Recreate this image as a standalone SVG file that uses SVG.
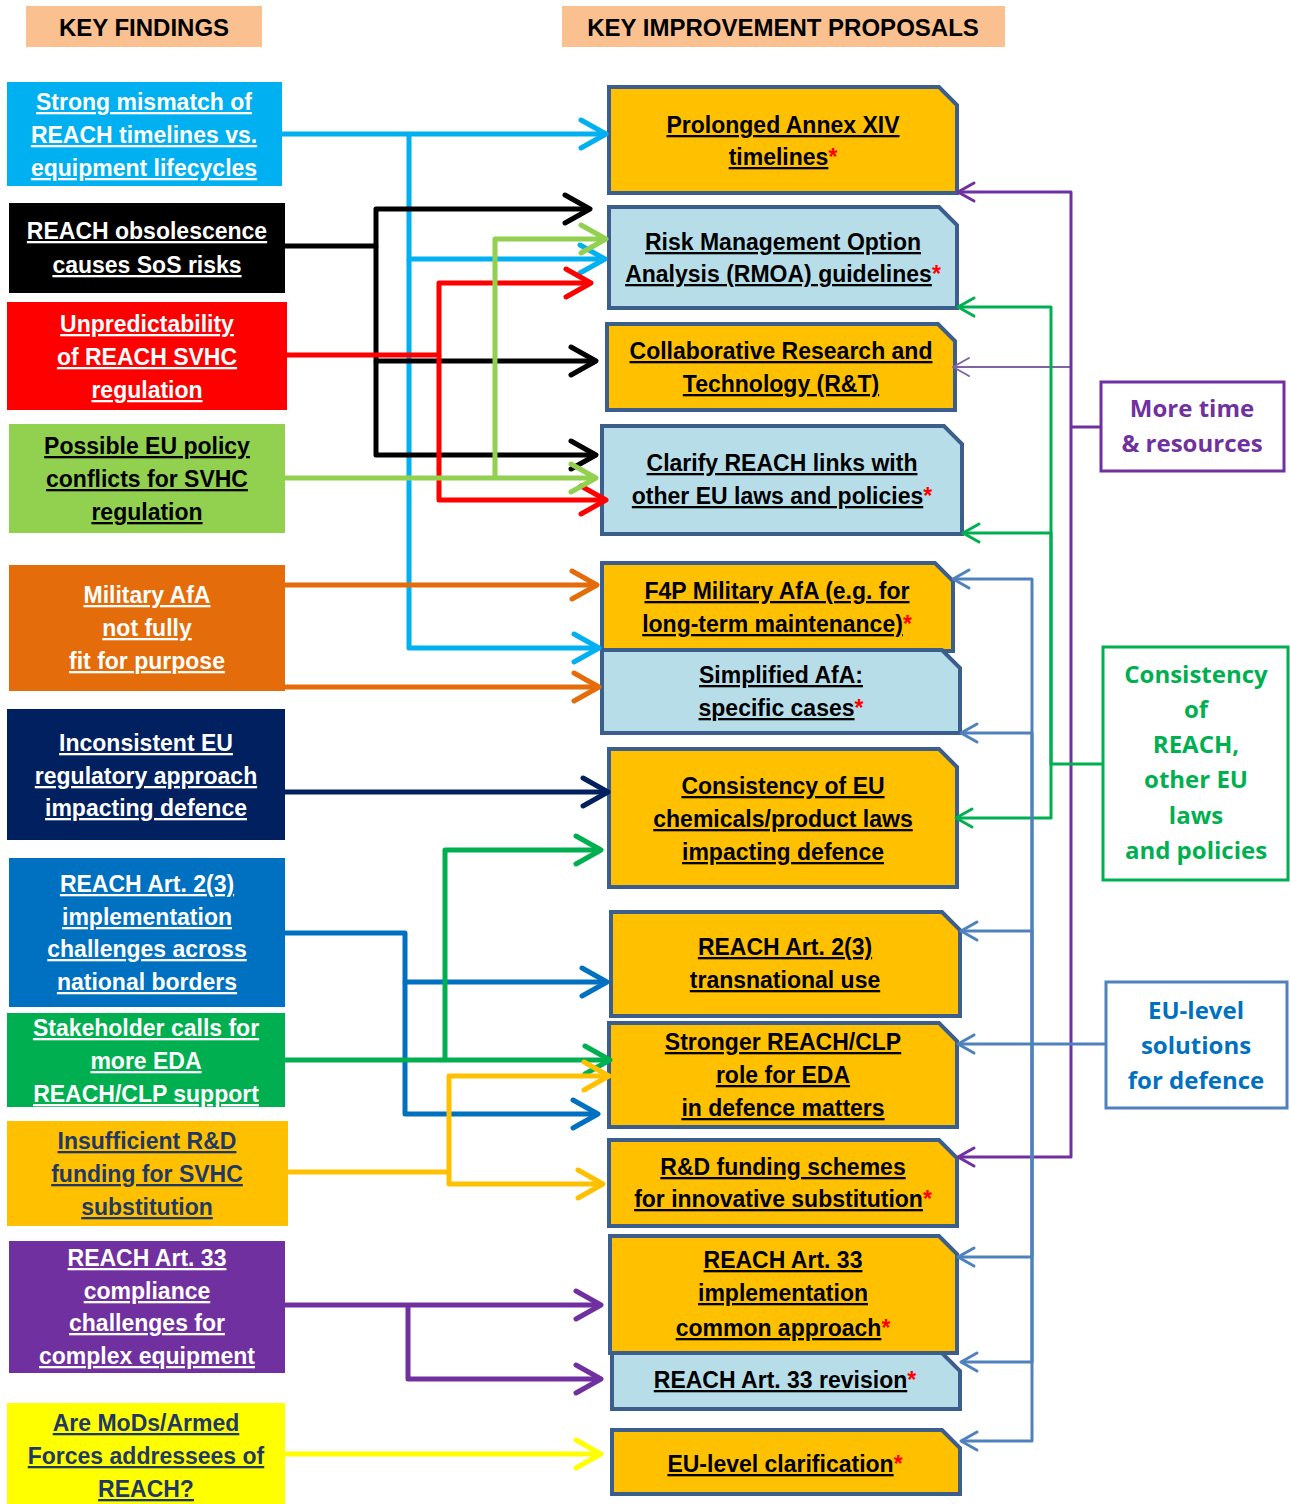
<svg xmlns="http://www.w3.org/2000/svg" width="1290" height="1504" viewBox="0 0 1290 1504">
<style>
.hd{font-family:"Liberation Sans",Arial,sans-serif;font-weight:bold;font-size:24px;text-anchor:middle;fill:#000}
.t{font-family:"Liberation Sans",Arial,sans-serif;font-weight:bold;font-size:23px;text-anchor:middle}
.u{text-decoration:underline}
.w{fill:#fff}
.k{fill:#000}
.db{fill:#1F3864}
.ast{fill:#FF0000}
.pr{fill:#FFC000;stroke:#3B5E8C;stroke-width:4}
.pb{fill:#B7DEE8;stroke:#3B5E8C;stroke-width:4}
.cat{font-family:"Open Sans","DejaVu Sans",sans-serif;font-weight:bold;font-size:24px;text-anchor:middle}
.c{fill:none;stroke-linejoin:round;stroke-width:5}
.r{fill:none;stroke-linejoin:round;stroke-width:3}
</style>
<defs>
<marker id="m-cyan" markerUnits="userSpaceOnUse" orient="auto" overflow="visible" refX="0" refY="0"><path d="M-25 -14 L0 0 L-25 14" fill="none" stroke="#00B0F0" stroke-width="5" stroke-linecap="round" stroke-linejoin="round"/></marker>
<marker id="m-black" markerUnits="userSpaceOnUse" orient="auto" overflow="visible"><path d="M-25 -14 L0 0 L-25 14" fill="none" stroke="#000" stroke-width="5" stroke-linecap="round" stroke-linejoin="round"/></marker>
<marker id="m-red" markerUnits="userSpaceOnUse" orient="auto" overflow="visible"><path d="M-25 -14 L0 0 L-25 14" fill="none" stroke="#FF0000" stroke-width="5" stroke-linecap="round" stroke-linejoin="round"/></marker>
<marker id="m-lgreen" markerUnits="userSpaceOnUse" orient="auto" overflow="visible"><path d="M-25 -14 L0 0 L-25 14" fill="none" stroke="#92D050" stroke-width="5" stroke-linecap="round" stroke-linejoin="round"/></marker>
<marker id="m-orange" markerUnits="userSpaceOnUse" orient="auto" overflow="visible"><path d="M-25 -14 L0 0 L-25 14" fill="none" stroke="#E46C0A" stroke-width="5" stroke-linecap="round" stroke-linejoin="round"/></marker>
<marker id="m-navy" markerUnits="userSpaceOnUse" orient="auto" overflow="visible"><path d="M-25 -14 L0 0 L-25 14" fill="none" stroke="#002060" stroke-width="5" stroke-linecap="round" stroke-linejoin="round"/></marker>
<marker id="m-green" markerUnits="userSpaceOnUse" orient="auto" overflow="visible"><path d="M-25 -14 L0 0 L-25 14" fill="none" stroke="#00B050" stroke-width="5" stroke-linecap="round" stroke-linejoin="round"/></marker>
<marker id="m-blue" markerUnits="userSpaceOnUse" orient="auto" overflow="visible"><path d="M-25 -14 L0 0 L-25 14" fill="none" stroke="#0070C0" stroke-width="5" stroke-linecap="round" stroke-linejoin="round"/></marker>
<marker id="m-gold" markerUnits="userSpaceOnUse" orient="auto" overflow="visible"><path d="M-25 -14 L0 0 L-25 14" fill="none" stroke="#FFC000" stroke-width="5" stroke-linecap="round" stroke-linejoin="round"/></marker>
<marker id="m-purple" markerUnits="userSpaceOnUse" orient="auto" overflow="visible"><path d="M-25 -14 L0 0 L-25 14" fill="none" stroke="#7030A0" stroke-width="5" stroke-linecap="round" stroke-linejoin="round"/></marker>
<marker id="m-yellow" markerUnits="userSpaceOnUse" orient="auto" overflow="visible"><path d="M-25 -14 L0 0 L-25 14" fill="none" stroke="#FFFF00" stroke-width="5" stroke-linecap="round" stroke-linejoin="round"/></marker>
<marker id="s-purple" markerUnits="userSpaceOnUse" orient="auto" overflow="visible"><path d="M-16 -9 L0 0 L-16 9" fill="none" stroke="#7030A0" stroke-width="3" stroke-linecap="round" stroke-linejoin="round"/></marker>
<marker id="s-lpurple" markerUnits="userSpaceOnUse" orient="auto" overflow="visible"><path d="M-16 -9 L0 0 L-16 9" fill="none" stroke="#8064A2" stroke-width="2" stroke-linecap="round" stroke-linejoin="round"/></marker>
<marker id="s-green" markerUnits="userSpaceOnUse" orient="auto" overflow="visible"><path d="M-16 -9 L0 0 L-16 9" fill="none" stroke="#00B050" stroke-width="3" stroke-linecap="round" stroke-linejoin="round"/></marker>
<marker id="s-blue" markerUnits="userSpaceOnUse" orient="auto" overflow="visible"><path d="M-16 -9 L0 0 L-16 9" fill="none" stroke="#4F81BD" stroke-width="3" stroke-linecap="round" stroke-linejoin="round"/></marker>
</defs>
<rect width="1290" height="1504" fill="#fff"/>

<g id="n-h1"><rect x="26" y="6" width="236" height="41" fill="#FAC090"/><text class="hd" x="144" y="36">KEY FINDINGS</text></g>
<g id="n-h2"><rect x="562" y="6" width="443" height="41" fill="#FAC090"/><text class="hd" x="783" y="36">KEY IMPROVEMENT PROPOSALS</text></g>

<g id="n-f1"><rect x="7" y="82" width="275" height="104" fill="#00B0F0"/>
<text class="t u w" x="144" y="110">Strong mismatch of</text>
<text class="t u w" x="144" y="143">REACH timelines vs.</text>
<text class="t u w" x="144" y="176">equipment lifecycles</text></g>
<g id="n-f2"><rect x="9" y="203" width="276" height="90" fill="#000"/>
<text class="t u w" x="147" y="239">REACH obsolescence</text>
<text class="t u w" x="147" y="273">causes SoS risks</text></g>
<g id="n-f3"><rect x="7" y="302" width="280" height="108" fill="#FF0000"/>
<text class="t u w" x="147" y="332">Unpredictability</text>
<text class="t u w" x="147" y="365">of REACH SVHC</text>
<text class="t u w" x="147" y="398">regulation</text></g>
<g id="n-f4"><rect x="9" y="424" width="276" height="109" fill="#92D050"/>
<text class="t u k" x="147" y="454">Possible EU policy</text>
<text class="t u k" x="147" y="487">conflicts for SVHC</text>
<text class="t u k" x="147" y="520">regulation</text></g>
<g id="n-f5"><rect x="9" y="565" width="276" height="126" fill="#E46C0A"/>
<text class="t u w" x="147" y="603">Military AfA</text>
<text class="t u w" x="147" y="636">not fully</text>
<text class="t u w" x="147" y="669">fit for purpose</text></g>
<g id="n-f6"><rect x="7" y="709" width="278" height="131" fill="#002060"/>
<text class="t u w" x="146" y="751">Inconsistent EU</text>
<text class="t u w" x="146" y="784">regulatory approach</text>
<text class="t u w" x="146" y="816">impacting defence</text></g>
<g id="n-f7"><rect x="9" y="858" width="276" height="149" fill="#0070C0"/>
<text class="t u w" x="147" y="892">REACH Art. 2(3)</text>
<text class="t u w" x="147" y="925">implementation</text>
<text class="t u w" x="147" y="957">challenges across</text>
<text class="t u w" x="147" y="990">national borders</text></g>
<g id="n-f8"><rect x="7" y="1013" width="278" height="94" fill="#00B050"/>
<text class="t u w" x="146" y="1036">Stakeholder calls for</text>
<text class="t u w" x="146" y="1069">more EDA</text>
<text class="t u w" x="146" y="1102">REACH/CLP support</text></g>
<g id="n-f9"><rect x="7" y="1121" width="281" height="105" fill="#FFC000"/>
<text class="t u db" x="147" y="1149">Insufficient R&amp;D</text>
<text class="t u db" x="147" y="1182">funding for SVHC</text>
<text class="t u db" x="147" y="1215">substitution</text></g>
<g id="n-f10"><rect x="9" y="1241" width="276" height="132" fill="#7030A0"/>
<text class="t u w" x="147" y="1266">REACH Art. 33</text>
<text class="t u w" x="147" y="1299">compliance</text>
<text class="t u w" x="147" y="1331">challenges for</text>
<text class="t u w" x="147" y="1364">complex equipment</text></g>
<g id="n-f11"><rect x="7" y="1403" width="278" height="101" fill="#FFFF00"/>
<text class="t u db" x="146" y="1431">Are MoDs/Armed</text>
<text class="t u db" x="146" y="1464">Forces addressees of</text>
<text class="t u db" x="146" y="1497">REACH?</text></g>

<g id="n-p1"><path class="pr" d="M609 87 H939 L957 105 V193 H609 Z"/>
<text class="t k" x="783" y="133"><tspan class="u">Prolonged Annex XIV</tspan></text>
<text class="t k" x="783" y="165"><tspan class="u">timelines</tspan><tspan class="ast">*</tspan></text></g>
<g id="n-p2"><path class="pb" d="M609 207 H939 L957 225 V308 H609 Z"/>
<text class="t k" x="783" y="250"><tspan class="u">Risk Management Option</tspan></text>
<text class="t k" x="783" y="282"><tspan class="u">Analysis (RMOA) guidelines</tspan><tspan class="ast">*</tspan></text></g>
<g id="n-p3"><path class="pr" d="M607 324 H938 L955 341 V410 H607 Z"/>
<text class="t k" x="781" y="359"><tspan class="u">Collaborative Research and</tspan></text>
<text class="t k" x="781" y="392"><tspan class="u">Technology (R&amp;T)</tspan></text></g>
<g id="n-p4"><path class="pb" d="M602 426 H944 L962 444 V534 H602 Z"/>
<text class="t k" x="782" y="471"><tspan class="u">Clarify REACH links with</tspan></text>
<text class="t k" x="782" y="504"><tspan class="u">other EU laws and policies</tspan><tspan class="ast">*</tspan></text></g>
<g id="n-p5"><path class="pr" d="M602 563 H935 L953 581 V651 H602 Z"/>
<text class="t k" x="777" y="599"><tspan class="u">F4P Military AfA (e.g. for</tspan></text>
<text class="t k" x="777" y="632"><tspan class="u">long-term maintenance)</tspan><tspan class="ast">*</tspan></text></g>
<g id="n-p6"><path class="pb" d="M602 650 H942 L960 668 V733 H602 Z"/>
<text class="t k" x="781" y="683"><tspan class="u">Simplified AfA:</tspan></text>
<text class="t k" x="781" y="716"><tspan class="u">specific cases</tspan><tspan class="ast">*</tspan></text></g>
<g id="n-p7"><path class="pr" d="M609 749 H939 L957 767 V887 H609 Z"/>
<text class="t k" x="783" y="794"><tspan class="u">Consistency of EU</tspan></text>
<text class="t k" x="783" y="827"><tspan class="u">chemicals/product laws</tspan></text>
<text class="t k" x="783" y="860"><tspan class="u">impacting defence</tspan></text></g>
<g id="n-p8"><path class="pr" d="M611 912 H942 L960 930 V1016 H611 Z"/>
<text class="t k" x="785" y="955"><tspan class="u">REACH Art. 2(3)</tspan></text>
<text class="t k" x="785" y="988"><tspan class="u">transnational use</tspan></text></g>
<g id="n-p9"><path class="pr" d="M609 1023 H939 L957 1041 V1127 H609 Z"/>
<text class="t k" x="783" y="1050"><tspan class="u">Stronger REACH/CLP</tspan></text>
<text class="t k" x="783" y="1083"><tspan class="u">role for EDA</tspan></text>
<text class="t k" x="783" y="1116"><tspan class="u">in defence matters</tspan></text></g>
<g id="n-p10"><path class="pr" d="M609 1140 H939 L957 1158 V1226 H609 Z"/>
<text class="t k" x="783" y="1175"><tspan class="u">R&amp;D funding schemes</tspan></text>
<text class="t k" x="783" y="1207"><tspan class="u">for innovative substitution</tspan><tspan class="ast">*</tspan></text></g>
<g id="n-p11"><path class="pr" d="M610 1236 H939 L957 1254 V1353 H610 Z"/>
<text class="t k" x="783" y="1268"><tspan class="u">REACH Art. 33</tspan></text>
<text class="t k" x="783" y="1301"><tspan class="u">implementation</tspan></text>
<text class="t k" x="783" y="1336"><tspan class="u">common approach</tspan><tspan class="ast">*</tspan></text></g>
<g id="n-p12"><path class="pb" d="M612 1353 H942 L960 1371 V1409 H612 Z"/>
<text class="t k" x="785" y="1388"><tspan class="u">REACH Art. 33 revision</tspan><tspan class="ast">*</tspan></text></g>
<g id="n-p13"><path class="pr" d="M612 1430 H942 L960 1448 V1494 H612 Z"/>
<text class="t k" x="785" y="1472"><tspan class="u">EU-level clarification</tspan><tspan class="ast">*</tspan></text></g>

<g id="n-r1"><rect x="1101" y="382" width="183" height="89" fill="#fff" stroke="#7030A0" stroke-width="3"/>
<text class="cat" fill="#7030A0" x="1192" y="417">More time</text>
<text class="cat" fill="#7030A0" x="1192" y="452">&amp; resources</text></g>
<g id="n-r2"><rect x="1103" y="647" width="185" height="233" fill="#fff" stroke="#00B050" stroke-width="3"/>
<text class="cat" fill="#00B050" x="1196" y="683">Consistency</text>
<text class="cat" fill="#00B050" x="1196" y="718">of</text>
<text class="cat" fill="#00B050" x="1196" y="753">REACH,</text>
<text class="cat" fill="#00B050" x="1196" y="788">other EU</text>
<text class="cat" fill="#00B050" x="1196" y="824">laws</text>
<text class="cat" fill="#00B050" x="1196" y="859">and policies</text></g>
<g id="n-r3"><rect x="1106" y="982" width="181" height="126" fill="#fff" stroke="#4F81BD" stroke-width="3"/>
<text class="cat" fill="#0070C0" x="1196" y="1019">EU-level</text>
<text class="cat" fill="#0070C0" x="1196" y="1054">solutions</text>
<text class="cat" fill="#0070C0" x="1196" y="1089">for defence</text></g>

<g id="connectors">
<g stroke="#00B0F0" class="c" marker-end="url(#m-cyan)">
<path d="M282 134 H606"/><path d="M409 134 V259 H605"/><path d="M409 259 V648 H599"/></g>
<g stroke="#000" class="c" marker-end="url(#m-black)">
<path d="M285 246 H376 V209 H590"/><path d="M376 246 V361 H596"/><path d="M376 361 V455 H596"/></g>
<g stroke="#FF0000" class="c" marker-end="url(#m-red)">
<path d="M287 355 H439 V283 H591"/><path d="M439 355 V500 H606"/></g>
<g stroke="#92D050" class="c" marker-end="url(#m-lgreen)">
<path d="M285 478 H596"/><path d="M495 478 V239 H606"/></g>
<g stroke="#E46C0A" class="c" marker-end="url(#m-orange)">
<path d="M285 585 H597"/><path d="M285 687 H599"/></g>
<g stroke="#002060" class="c" marker-end="url(#m-navy)"><path d="M285 792 H608"/></g>
<g stroke="#0070C0" class="c" marker-end="url(#m-blue)">
<path d="M285 933 H405 V982 H607"/><path d="M405 982 V1114 H598"/></g>
<g stroke="#00B050" class="c" marker-end="url(#m-green)">
<path d="M285 1060 H610"/><path d="M445 1060 V850 H601"/></g>
<g stroke="#FFC000" class="c" marker-end="url(#m-gold)">
<path d="M288 1172 H449 V1076 H609"/><path d="M449 1172 V1184 H603"/></g>
<g stroke="#7030A0" class="c" marker-end="url(#m-purple)">
<path d="M285 1305 H601"/><path d="M408 1305 V1379 H601"/></g>
<g stroke="#FFFF00" class="c" marker-end="url(#m-yellow)"><path d="M285 1454 H601"/></g>

<path d="M1101 427 H1071 V367 H953" stroke="#8064A2" stroke-width="2" fill="none" marker-end="url(#s-lpurple)"/>
<g stroke="#7030A0" class="r" marker-end="url(#s-purple)">
<path d="M1101 427 H1071 V192 H958"/><path d="M1071 427 V1157 H958"/></g>
<g stroke="#00B050" class="r" marker-end="url(#s-green)">
<path d="M1103 764 H1051 V307 H958"/><path d="M1051 764 V533 H963"/><path d="M1051 764 V818 H956"/></g>
<g stroke="#4F81BD" class="r" marker-end="url(#s-blue)">
<path d="M1106 1044 H1032 V579 H953"/><path d="M1032 1044 V733 H961"/><path d="M1032 1044 V931 H961"/><path d="M1032 1044 H958"/><path d="M1032 1044 V1257 H958"/><path d="M1032 1044 V1362 H961"/><path d="M1032 1044 V1441 H961"/></g>
</g>
</svg>
